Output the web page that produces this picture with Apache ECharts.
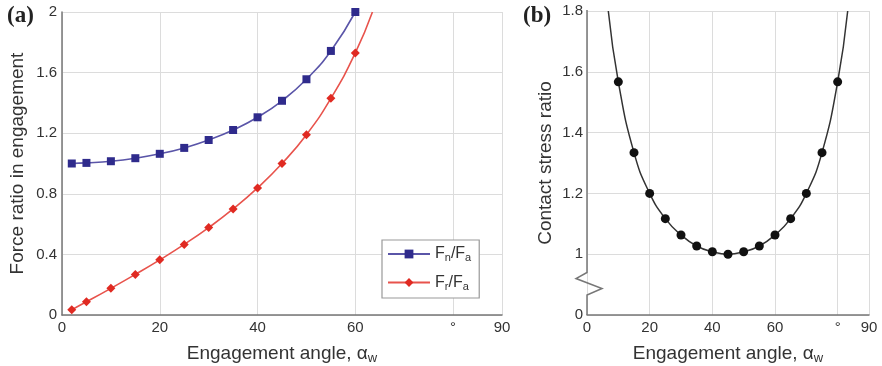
<!DOCTYPE html>
<html>
<head>
<meta charset="utf-8">
<script src="https://cdn.jsdelivr.net/npm/echarts@6/dist/echarts.min.js"></script>
<style>
  html, body { margin: 0; padding: 0; background: #fff; }
  #main { width: 882px; height: 366px; }
</style>
</head>
<body>
<div id="main"></div>
<script>
// (a) force ratios vs engagement angle
const forceAngles = [2, 5, 10, 15, 20, 25, 30, 35, 40, 45, 50, 55, 60];
const fnRatio = [1.0, 1.004, 1.015, 1.035, 1.064, 1.103, 1.155, 1.221, 1.305, 1.414, 1.556, 1.743, 2.0];
const frRatio = [0.035, 0.087, 0.176, 0.268, 0.364, 0.466, 0.577, 0.70, 0.839, 1.0, 1.19, 1.43, 1.73];
const frTail = [63.5, 2.0]; // red curve runs out of the top past the last marker

// (b) contact stress ratio
const stressAngles = [10, 15, 20, 25, 30, 35, 40, 45, 50, 55, 60, 65, 70, 75, 80];
const stressRatio = [1.567, 1.334, 1.2, 1.117, 1.063, 1.027, 1.008, 1.0, 1.008, 1.027, 1.063, 1.117, 1.2, 1.334, 1.567];
const stressEnds = [[6.8, 1.8], [83.2, 1.8]];

const xTicks = { 80: '°' };
const font = 'Liberation Sans, Arial, sans-serif';
const axisGrey = '#777';
const gridGrey = '#dcdcdc';

const myChart = echarts.init(document.getElementById('main'));

// shared axis styling
function xAxisFor(gridIndex) {
  return {
    gridIndex: gridIndex,
    type: 'value',
    min: 0,
    max: 90,
    interval: 20,
    name: '{t|Engagement angle, α}{s|w}',
    nameLocation: 'middle',
    nameGap: 27,
    nameTextStyle: {
      rich: {
        t: { fontFamily: font, fontSize: 19, color: '#333' },
        s: { fontFamily: font, fontSize: 13, color: '#333', padding: [10, 0, 0, 0] },
      },
    },
    axisLine: { lineStyle: { color: axisGrey, width: 1.5 } },
    axisTick: { show: false },
    axisLabel: {
      fontFamily: font, fontSize: 15, color: '#333', margin: 5,
      formatter: (v) => xTicks[v] || String(v),
    },
    splitLine: { lineStyle: { color: gridGrey } },
  };
}

const fnSeries = forceAngles.map((a, i) => [a, fnRatio[i]]);
const frSeries = forceAngles.map((a, i) => [a, frRatio[i]]);
frSeries.push({ value: frTail, symbol: 'none' });

const stressSeries = stressAngles.map((a, i) => [a, stressRatio[i]]);
stressSeries.unshift({ value: stressEnds[0], symbol: 'none' });
stressSeries.push({ value: stressEnds[1], symbol: 'none' });

const option = {
  animation: false,
  grid: [
    { left: 62, right: 380, top: 12, bottom: 51, outerBoundsMode: 'none' },
    { left: 587, right: 13, top: 11, bottom: 51, outerBoundsMode: 'none' },
  ],
  legend: {
    data: ['Fn/Fa', 'Fr/Fa'],
    orient: 'vertical',
    left: 382,
    top: 240,
    padding: [6, 8, 6, 5],
    itemGap: 11,
    itemWidth: 42,
    itemHeight: 11,
    backgroundColor: '#fff',
    borderColor: '#999',
    borderWidth: 1.2,
    borderRadius: 0,
    formatter: (name) => {
      const p = name.split('/');
      return '{t|F}{s|' + p[0].slice(1) + '}{t|/F}{s|' + p[1].slice(1) + '}';
    },
    textStyle: {
      rich: {
        t: { fontFamily: font, fontSize: 16, color: '#333' },
        s: { fontFamily: font, fontSize: 11, color: '#333', padding: [8, 0, 0, 0] },
      },
    },
  },
  xAxis: [xAxisFor(0), xAxisFor(1)],
  yAxis: [
    {
      gridIndex: 0,
      type: 'value',
      min: 0,
      max: 2,
      interval: 0.4,
      name: 'Force ratio in engagement',
      nameLocation: 'middle',
      nameGap: 35,
      nameTextStyle: { fontFamily: font, fontSize: 19, color: '#333' },
      axisLine: { show: true, lineStyle: { color: axisGrey, width: 1.5 } },
      axisTick: { show: false },
      axisLabel: { fontFamily: font, fontSize: 15, color: '#333', margin: 5 },
      splitLine: { lineStyle: { color: gridGrey } },
    },
    {
      gridIndex: 1,
      type: 'value',
      min: 0.8,
      max: 1.8,
      interval: 0.2,
      name: 'Contact stress ratio',
      nameLocation: 'middle',
      nameGap: 32,
      nameTextStyle: { fontFamily: font, fontSize: 19, color: '#333' },
      axisLine: { show: false },
      axisTick: { show: false },
      axisLabel: {
        fontFamily: font, fontSize: 15, color: '#333', margin: 4,
        // broken axis: bottom tick stands for zero
        formatter: (v) => (v < 0.9 ? '0' : String(+v.toFixed(1))),
      },
      splitLine: { lineStyle: { color: gridGrey } },
    },
  ],
  series: [
    {
      name: 'Fn/Fa',
      type: 'line',
      xAxisIndex: 0,
      yAxisIndex: 0,
      data: fnSeries,
      smooth: true,
      symbol: 'rect',
      symbolSize: 8,
      lineStyle: { color: '#5a55a8', width: 1.6 },
      itemStyle: { color: '#2f2b8c' },
      color: '#2f2b8c',
    },
    {
      name: 'Fr/Fa',
      type: 'line',
      xAxisIndex: 0,
      yAxisIndex: 0,
      data: frSeries,
      smooth: true,
      symbol: 'diamond',
      symbolSize: 9,
      lineStyle: { color: '#e8534c', width: 1.6 },
      itemStyle: { color: '#e02a22' },
      color: '#e02a22',
    },
    {
      name: 'stress',
      type: 'line',
      xAxisIndex: 1,
      yAxisIndex: 1,
      data: stressSeries,
      smooth: true,
      symbol: 'circle',
      symbolSize: 9,
      lineStyle: { color: '#333', width: 1.5 },
      itemStyle: { color: '#111' },
    },
  ],
  graphic: [
    { id: 'labA', type: 'text', left: 7, top: 5, style: { text: '(a)', fontFamily: 'Liberation Serif, Times New Roman, serif', fontWeight: 'bold', fontSize: 23, fill: '#222' } },
    { id: 'labB', type: 'text', left: 523, top: 5, style: { text: '(b)', fontFamily: 'Liberation Serif, Times New Roman, serif', fontWeight: 'bold', fontSize: 23, fill: '#222' } },
  ],
};

myChart.setOption(option);

// y axis line of (b) with a zigzag break near the bottom
const pTop = myChart.convertToPixel({ gridIndex: 1 }, [0, 1.8]);
const pBot = myChart.convertToPixel({ gridIndex: 1 }, [0, 0.8]);
const b1 = myChart.convertToPixel({ gridIndex: 1 }, [0, 0.94]);
const b2 = myChart.convertToPixel({ gridIndex: 1 }, [0, 0.92]);
const b3 = myChart.convertToPixel({ gridIndex: 1 }, [0, 0.887]);
const b4 = myChart.convertToPixel({ gridIndex: 1 }, [0, 0.866]);
myChart.setOption({
  graphic: [
    {
      id: 'breakAxis',
      type: 'polyline',
      z: 10,
      shape: {
        points: [
          [pTop[0], pTop[1] - 1],
          [b1[0], b1[1]],
          [b2[0] - 11, b2[1]],
          [b3[0] + 15, b3[1]],
          [b4[0], b4[1]],
          [pBot[0], pBot[1]],
        ],
      },
      style: { stroke: axisGrey, lineWidth: 1.5, fill: null },
    },
  ],
});
</script>
</body>
</html>
